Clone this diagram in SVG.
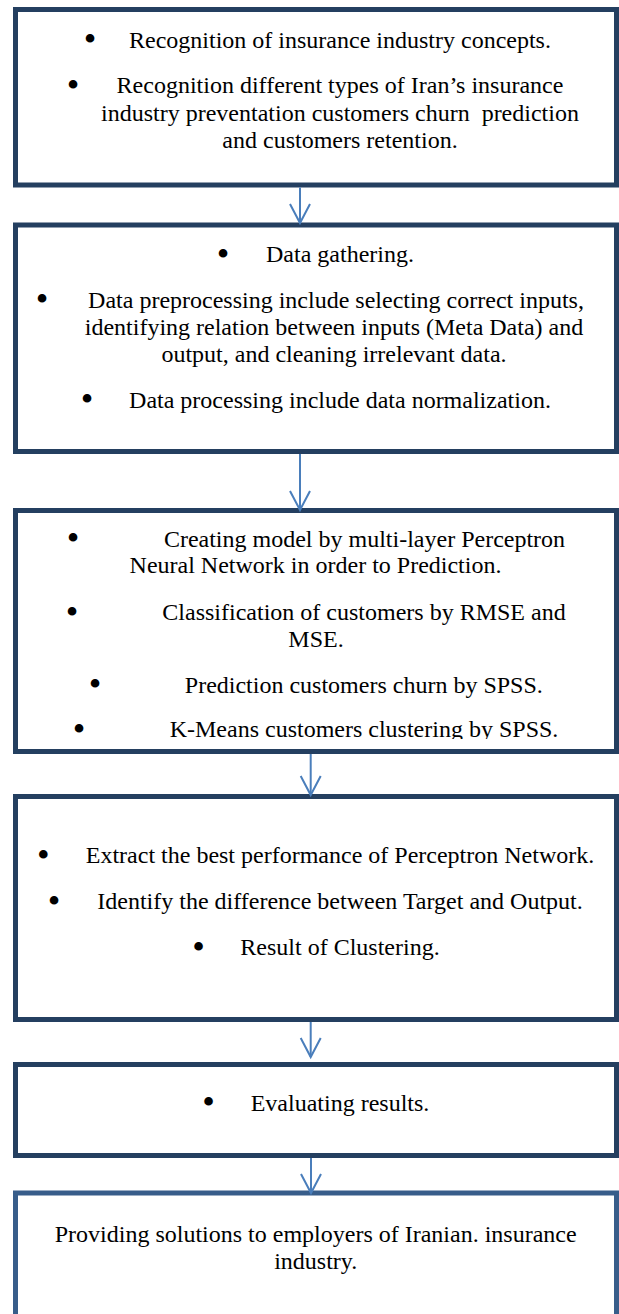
<svg xmlns="http://www.w3.org/2000/svg" width="619" height="1314" viewBox="0 0 619 1314">
  <style>
    .box { fill: #ffffff; stroke: #243f60; stroke-width: 5; }
    .box-light { fill: #ffffff; stroke: #385d8a; stroke-width: 5; }
    text { font-family: "Liberation Serif", "Times New Roman", serif; font-size: 24px; fill: #000000; text-anchor: middle; }
    text.b { font-size: 36px; }
    .flow { stroke: #4a7ebb; stroke-width: 2; fill: none; marker-end: url(#vhead); }
  </style>
  <defs>
    <marker id="vhead" markerUnits="userSpaceOnUse" viewBox="-22 -12 24 24" refX="0" refY="0" markerWidth="24" markerHeight="24" orient="auto" overflow="visible">
      <path d="M-19,-10 L0,0 L-19,10" fill="none" stroke="#4a7ebb" stroke-width="2"/>
    </marker>
    <clipPath id="clip-step3">
      <rect x="18" y="513" width="596" height="226"/>
    </clipPath>
  </defs>

  <rect width="619" height="1314" fill="#ffffff"/>

  <g id="step1">
    <rect class="box" x="15.5" y="9.5" width="601" height="175.5"/>
    <text class="b" x="90" y="51">•</text>
    <text x="340" y="47.5">Recognition of insurance industry concepts.</text>
    <text class="b" x="73" y="96.5">•</text>
    <text x="340" y="93">Recognition different types of Iran’s insurance</text>
    <text x="340" y="120.7" xml:space="preserve">industry preventation customers churn  prediction</text>
    <text x="340" y="148.3">and customers retention.</text>
  </g>

  <g id="step2">
    <rect class="box" x="15.5" y="225" width="601" height="226.5"/>
    <text class="b" x="223" y="265.5">•</text>
    <text x="340" y="262">Data gathering.</text>
    <text class="b" x="42" y="311">•</text>
    <text x="336" y="307.5">Data preprocessing include selecting correct inputs,</text>
    <text x="334" y="335">identifying relation between inputs (Meta Data) and</text>
    <text x="334" y="362">output, and cleaning irrelevant data.</text>
    <text class="b" x="87" y="411">•</text>
    <text x="340" y="407.5">Data processing include data normalization.</text>
  </g>

  <g id="step3">
    <rect class="box" x="15.5" y="510.5" width="601" height="241"/>
    <g clip-path="url(#clip-step3)">
      <text class="b" x="73" y="550.2">•</text>
      <text x="364.5" y="546.7">Creating model by multi-layer Perceptron</text>
      <text x="315.5" y="573">Neural Network in order to Prediction.</text>
      <text class="b" x="72" y="623.5">•</text>
      <text x="364" y="620">Classification of customers by RMSE and</text>
      <text x="316" y="646.7">MSE.</text>
      <text class="b" x="95" y="696.2">•</text>
      <text x="363.8" y="692.7">Prediction customers churn by SPSS.</text>
      <text class="b" x="79" y="740.8">•</text>
      <text x="364" y="737.3">K-Means customers clustering by SPSS.</text>
    </g>
  </g>

  <g id="step4">
    <rect class="box" x="15.5" y="796.5" width="601" height="223"/>
    <text class="b" x="43.4" y="866.8">•</text>
    <text x="340" y="863.3">Extract the best performance of Perceptron Network.</text>
    <text class="b" x="54" y="912.5">•</text>
    <text x="340" y="909">Identify the difference between Target and Output.</text>
    <text class="b" x="198.6" y="958.5">•</text>
    <text x="340" y="955">Result of Clustering.</text>
  </g>

  <g id="step5">
    <rect class="box" x="15.5" y="1064.5" width="601" height="91"/>
    <text class="b" x="208.5" y="1114.2">•</text>
    <text x="340" y="1110.7">Evaluating results.</text>
  </g>

  <g id="step6">
    <rect class="box-light" x="15.5" y="1193" width="601" height="140"/>
    <text x="315.7" y="1241.7">Providing solutions to employers of Iranian. insurance</text>
    <text x="315.7" y="1269.3">industry.</text>
  </g>

  <g id="connectors">
    <path class="flow" d="M300,187.5 L300,223"/>
    <path class="flow" d="M300,454 L300,510"/>
    <path class="flow" d="M310.7,754 L310.7,795"/>
    <path class="flow" d="M310.7,1022 L310.7,1057"/>
    <path class="flow" d="M311,1158 L311,1193"/>
  </g>
</svg>
